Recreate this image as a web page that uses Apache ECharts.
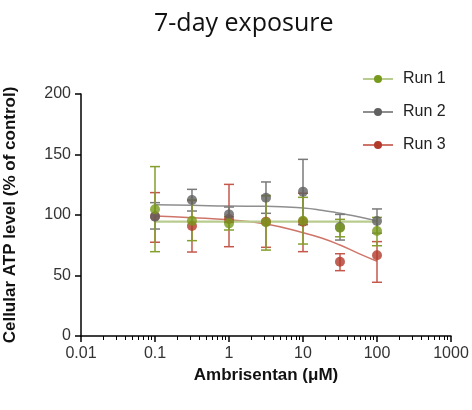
<!DOCTYPE html>
<html><head><meta charset="utf-8">
<script src="https://cdn.jsdelivr.net/npm/echarts@6/dist/echarts.min.js"></script>
<style>html,body{margin:0;padding:0;background:#fff}#c{width:472px;height:410px}</style>
</head><body><div id="c"></div>
<script>
const concentrations = [0.1, 0.316, 1, 3.16, 10, 31.6, 100];
const run1 = [104.7, 95.3, 93.1, 94, 95.3, 89.5, 86.8];
const run1Upper = [140, 112.4, 98.6, 116, 114.6, 96.4, 98];
const run1Lower = [69.7, 78.8, 87.6, 71, 76, 82, 74.6];
const run2 = [98.6, 112.4, 100.5, 114.3, 119.3, 90, 95];
const run2Upper = [110.2, 121.2, 106.6, 127.3, 146, 100.5, 105];
const run2Lower = [88.4, 103.3, 94, 101.4, 92, 79.3, 85];
const run3 = [99, 90.9, 96.7, 94.5, 94.5, 61.4, 66.7];
const run3Upper = [118.5, 112, 125.3, 116, 118, 68, 78];
const run3Lower = [77.5, 69.4, 73.8, 73.3, 69.7, 54, 44.4];
const fitX = [0.1, 0.316, 1, 3.16, 10, 17.8, 31.6, 56, 100];
const fit1 = [94.5, 94.5, 94.5, 94.5, 94.5, 94.5, 94.5, 94.5, 94.5];
const fit2 = [108.5, 108, 107.4, 107.2, 105.8, 104, 101.4, 98.6, 95];
const fit3 = [99.2, 97.8, 96, 92.6, 85.4, 81, 75.2, 68.3, 61.8];
const xTicks = [0.01, 0.1, 1, 10, 100, 1000];
const minorTicks = [];
[0.01, 0.1, 1, 10, 100].forEach(d => { for (let k = 2; k <= 9; k++) minorTicks.push(+(d * k).toPrecision(3)); });
const yTicks = [0, 50, 100, 150, 200];

const runs = [
  {name: 'Run 3', y: run3, up: run3Upper, lo: run3Lower, fit: fit3, pt: '#b23a2b', fitC: '#cf7469', err: '#c4584c'},
  {name: 'Run 2', y: run2, up: run2Upper, lo: run2Lower, fit: fit2, pt: '#606060', fitC: '#8e8e8e', err: '#7a7a7a'},
  {name: 'Run 1', y: run1, up: run1Upper, lo: run1Lower, fit: fit1, pt: '#789a1c', fitC: '#b9cc8f', err: '#849f2e'}
];

const series = [];
runs.forEach(r => {
  series.push({
    type: 'line', name: r.name, data: fitX.map((x, i) => [x, r.fit[i]]),
    smooth: true, showSymbol: false, symbol: 'circle', symbolSize: 9,
    lineStyle: {color: r.fitC, width: r.name === 'Run 1' ? 2.2 : 1.5},
    itemStyle: {color: r.pt}, z: 2, silent: true
  });
});
runs.forEach(r => {
  series.push({
    type: 'custom', name: r.name + ' err', z: 3,
    data: concentrations.map((x, i) => [x, r.lo[i], r.up[i]]),
    renderItem: function (params, api) {
      const x = api.value(0);
      const a = api.coord([x, api.value(1)]);
      const b = api.coord([x, api.value(2)]);
      const w = 5;
      const st = {stroke: r.err, lineWidth: 1.5, fill: null};
      return {type: 'group', children: [
        {type: 'line', shape: {x1: a[0], y1: a[1], x2: b[0], y2: b[1]}, style: st},
        {type: 'line', shape: {x1: a[0] - w, y1: a[1], x2: a[0] + w, y2: a[1]}, style: st},
        {type: 'line', shape: {x1: b[0] - w, y1: b[1], x2: b[0] + w, y2: b[1]}, style: st}
      ]};
    }
  });
});
runs.forEach(r => {
  series.push({
    type: 'scatter', name: r.name + ' pts', z: 4,
    data: concentrations.map((x, i) => [x, r.y[i]]),
    symbol: 'circle', symbolSize: 10, itemStyle: {color: r.pt}
  });
});

const legendItem = (r, top) => ({
  show: true, orient: 'vertical', left: 357, top: top, itemWidth: 30, itemHeight: 10,
  data: [{name: r.name, itemStyle: {color: r.pt}, lineStyle: {color: r.fitC, width: 2}}],
  textStyle: {fontFamily: 'Liberation Sans', fontSize: 16, color: '#222', padding: [0, 0, 0, 5]},
  selectedMode: false
});

const tickFont = {fontFamily: 'Liberation Sans', fontSize: 16, color: '#333'};
const nameFont = {fontFamily: 'Liberation Sans', fontSize: 17, fontWeight: 'bold', color: '#111'};

const chart = echarts.init(document.getElementById('c'), null, {renderer: 'canvas'});
chart.setOption({
  animation: false,
  backgroundColor: '#fff',
  title: {text: '7-day exposure', left: 149, top: 6,
    textStyle: {fontFamily: 'Open Sans', fontSize: 25, fontWeight: 'normal', color: '#111'}},
  legend: [legendItem(runs[2], 66), legendItem(runs[1], 99), legendItem(runs[0], 132)],
  grid: {left: 81, right: 21, top: 94, bottom: 74, containLabel: false, outerBoundsMode: 'none'},
  xAxis: [{
    type: 'log', logBase: 10, min: xTicks[0], max: xTicks[xTicks.length - 1],
    name: 'Ambrisentan (μM)', nameLocation: 'middle', nameGap: 23,
    nameTextStyle: nameFont,
    axisLine: {lineStyle: {color: '#000', width: 1.5}},
    axisTick: {show: true, length: 6, lineStyle: {color: '#000', width: 1.5}},
    minorTick: {show: false},
    splitLine: {show: false},
    axisLabel: Object.assign({margin: 10, formatter: v => String(+v.toPrecision(3))}, tickFont)
  }, {
    type: 'log', logBase: 10, min: xTicks[0], max: xTicks[xTicks.length - 1],
    position: 'bottom', offset: 0,
    axisLine: {show: false},
    axisTick: {show: true, length: 4, customValues: minorTicks, lineStyle: {color: '#000', width: 1}},
    axisLabel: {show: false},
    splitLine: {show: false}
  }],
  yAxis: {
    type: 'value', min: yTicks[0], max: yTicks[yTicks.length - 1], interval: 50,
    name: 'Cellular ATP level (% of control)', nameLocation: 'middle', nameGap: 62,
    nameTextStyle: nameFont,
    axisLine: {show: true, lineStyle: {color: '#000', width: 1.5}},
    axisTick: {show: true, length: 6, lineStyle: {color: '#000', width: 1.5}},
    splitLine: {show: false},
    axisLabel: Object.assign({margin: 10}, tickFont)
  },
  series: series
});
</script></body></html>
